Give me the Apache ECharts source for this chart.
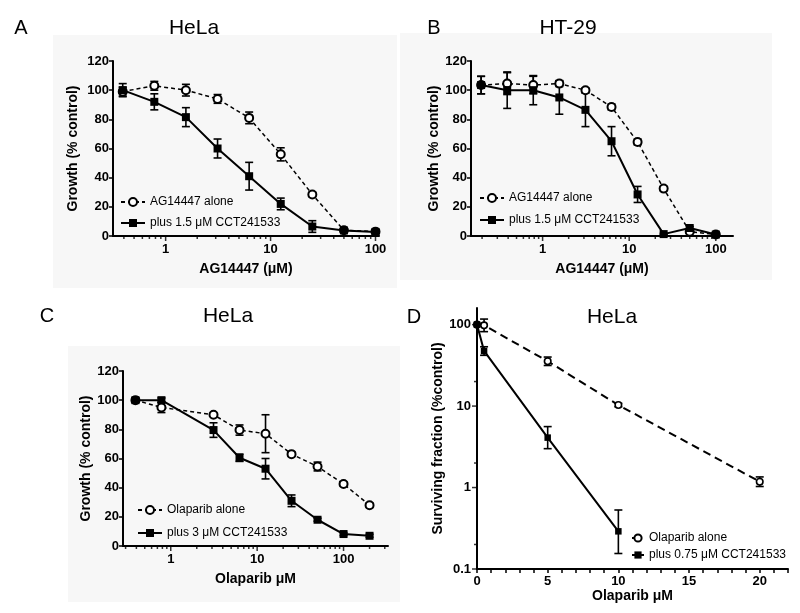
<!DOCTYPE html>
<html>
<head>
<meta charset="utf-8">
<script src="https://cdn.jsdelivr.net/npm/echarts@6/dist/echarts.min.js"></script>
<style>
html,body{margin:0;padding:0;background:#fff;}
#c{width:800px;height:613px;}
</style>
</head>
<body>
<div id="c"></div>
<script>
// ---------- Panel A : HeLa, AG14447 ----------
const concA = [0.39, 0.78, 1.56, 3.125, 6.25, 12.5, 25, 50, 100];
const aloneA = [99, 103, 100, 94, 81, 56, 28.5, 4, 3];
const aloneAErr = [3, 3, 4, 3, 4, 4.5, 1.5, 1, 1];
const plusA = [100, 92, 81.5, 60, 41, 22, 6.5, 3.8, 2.8];
const plusAErr = [4.5, 5.5, 6.5, 6.5, 9.5, 4, 4, 1, 1];

// ---------- Panel B : HT-29, AG14447 ----------
const concB = [0.195, 0.39, 0.78, 1.56, 3.125, 6.25, 12.5, 25, 50, 100];
const aloneB = [103.5, 104.5, 103.5, 104.5, 100, 88.5, 64.5, 32.5, 3, 1];
const aloneBErr = [6, 7.5, 6, 2, 1.5, 2, 2, 1.5, 1, 0.5];
const plusB = [103.5, 100, 100, 95, 86.5, 65, 28.5, 1.3, 5.5, 1];
const plusBErr = [6, 12.5, 10, 11.5, 11.5, 10, 5.5, 0.5, 1, 0.5];

// ---------- Panel C : HeLa, Olaparib ----------
const concC = [0.39, 0.78, 3.125, 6.25, 12.5, 25, 50, 100, 200];
const aloneC = [100, 95, 90, 79.5, 77, 63, 54.5, 42.5, 28];
const aloneCErr = [1.5, 3.5, 1, 3.5, 13, 1.5, 3, 1.5, 1.5];
const plusC = [100, 100, 79.5, 60.5, 53, 31, 18, 8.2, 7];
const plusCErr = [1.5, 1.5, 5, 2.5, 7, 4, 1, 1, 1];

// ---------- Panel D : HeLa, clonogenic ----------
const concDAlone = [0, 0.5, 5, 10, 20];
const aloneD = [100, 98, 35.5, 10.3, 1.18];
const aloneDLow = [100, 82, 31.5, 9.8, 1.03];
const aloneDHigh = [100, 117, 40, 10.8, 1.35];
const concDPlus = [0, 0.5, 5, 10];
const plusD = [100, 47.5, 4.1, 0.29];
const plusDLow = [100, 42, 3.0, 0.155];
const plusDHigh = [100, 53.5, 5.6, 0.53];

// ---------- tick values ----------
const majorLogTicks = [1, 10, 100];
const minorTicksA = [0.4,0.5,0.6,0.7,0.8,0.9,2,3,4,5,6,7,8,9,20,30,40,50,60,70,80,90];
const minorTicksB = [0.2,0.3,0.4,0.5,0.6,0.7,0.8,0.9,2,3,4,5,6,7,8,9,20,30,40,50,60,70,80,90];
const minorTicksC = [0.3,0.4,0.5,0.6,0.7,0.8,0.9,2,3,4,5,6,7,8,9,20,30,40,50,60,70,80,90,200,300];
const majorTicksDY = [0.1, 1, 10, 100];
const minorTicksDY = [0.2, 2, 20];

const legendA = ['AG14447 alone', 'plus 1.5 μM CCT241533'];
const legendC = ['Olaparib alone', 'plus 3 μM CCT241533'];
const legendD = ['Olaparib alone ', 'plus 0.75 μM CCT241533'];

const FONT = "'Liberation Sans', Arial, Helvetica, sans-serif";

function isDecade(v){ const l = Math.log10(v); return Math.abs(l - Math.round(l)) < 1e-6; }
function logFmt(v){ return isDecade(v) ? String(+(+v).toPrecision(6)) : ''; }

const tickLabel = {fontFamily: FONT, fontSize: 13, fontWeight: 'bold', color: '#000'};
const nameStyle = {fontFamily: FONT, fontSize: 14, fontWeight: 'bold', color: '#000'};
const axLine = {show: true, onZero: false, lineStyle: {color: '#000', width: 2}};

function logX(gi, min, max, name){
  return {type:'log', gridIndex:gi, min:min, max:max, logBase:10,
    axisLine: axLine, axisTick:{show:false}, splitLine:{show:false}, minorTick:{show:false},
    axisLabel: Object.assign({margin:7, formatter: logFmt}, tickLabel),
    name: name, nameLocation:'middle', nameGap: 26, nameTextStyle: nameStyle};
}
function linY(gi, nameGap){
  return {type:'value', gridIndex:gi, min:0, max:120, interval:20,
    axisLine: axLine, axisTick:{show:true, length:4, lineStyle:{width:1.5, color:'#000'}},
    splitLine:{show:false},
    axisLabel: Object.assign({margin:4}, tickLabel),
    name:'Growth (% control)', nameLocation:'middle', nameGap: nameGap, nameTextStyle: nameStyle};
}

function lineSeries(name, xs, ys, gi, open, big){
  const sz = big ? 8 : 6.5;
  return {type:'line', name:name, xAxisIndex:gi, yAxisIndex:gi,
    data: xs.map((x,i)=>[x, ys[i]]),
    symbol: open ? 'circle' : 'rect', symbolSize: sz,
    showAllSymbol: true, clip:false, z: open ? 3 : 4,
    itemStyle:{color: open ? '#fff' : '#000', borderColor:'#000', borderWidth: open ? (big?2:1.6) : 0},
    lineStyle:{color:'#000', width: open ? (big?1.5:2) : 2, type: open ? (big ? [4,3] : [8,5]) : 'solid'},
    emphasis:{disabled:true}, silent:true};
}

function errSeries(xs, lo, hi, gi, cap){
  const data = [];
  xs.forEach((x,i)=>{ if (hi[i] - lo[i] > 1e-9) data.push([x, lo[i], hi[i]]); });
  return {type:'custom', xAxisIndex:gi, yAxisIndex:gi, data:data, z:2, silent:true,
    encode:{x:0, y:[1,2]},
    renderItem: function(params, api){
      const x = api.value(0);
      const p1 = api.coord([x, api.value(1)]);
      const p2 = api.coord([x, api.value(2)]);
      const st = {stroke:'#000', lineWidth:1.6};
      return {type:'group', children:[
        {type:'line', shape:{x1:p1[0], y1:p1[1], x2:p2[0], y2:p2[1]}, style:st},
        {type:'line', shape:{x1:p1[0]-cap, y1:p1[1], x2:p1[0]+cap, y2:p1[1]}, style:st},
        {type:'line', shape:{x1:p2[0]-cap, y1:p2[1], x2:p2[0]+cap, y2:p2[1]}, style:st}
      ]};
    }};
}
function symErr(xs, ys, err, gi, cap){
  return errSeries(xs, ys.map((y,i)=>y-err[i]), ys.map((y,i)=>y+err[i]), gi, cap);
}

function xTicks(gi, vals, len){
  return {type:'scatter', xAxisIndex:gi, yAxisIndex:gi, data: vals.map(v=>[v,0]),
    symbol:'rect', symbolSize:[1.5, len], symbolOffset:[0, '50%'], clip:false, silent:true,
    itemStyle:{color:'#000'}, z:5};
}
function yTicks(gi, vals, len){
  return {type:'scatter', xAxisIndex:gi, yAxisIndex:gi, data: vals.map(v=>[0,v]),
    symbol:'rect', symbolSize:[len, 1.5], symbolOffset:['-50%', 0], clip:false, silent:true,
    itemStyle:{color:'#000'}, z:5};
}

function legendOf(names, left, top, iw, ih, gap){
  return {data: names, orient:'vertical', left:left, top:top, itemWidth:iw, itemHeight:ih,
    itemGap:gap, padding:0, selectedMode:false,
    textStyle:{fontFamily:FONT, fontSize:12, color:'#000'}};
}

const txt = (x, y, t, size) => ({type:'text', x:x, y:y, silent:true,
  style:{text:t, fontFamily:FONT, fontSize:size, fill:'#000', textAlign:'center', textVerticalAlign:'middle'}});
const bg = (x, y, w, h) => ({type:'rect', shape:{x:x, y:y, width:w, height:h}, style:{fill:'#f7f7f7'}, z:-10, silent:true});

const option = {
  animation:false,
  backgroundColor:'#fff',
  graphic:[
    bg(53, 35, 344, 253), bg(400, 33, 372, 247), bg(68, 346, 332, 256),
    txt(21, 28, 'A', 20), txt(194, 28, 'HeLa', 21),
    txt(434, 28, 'B', 20), txt(568, 28, 'HT-29', 21),
    txt(47, 316, 'C', 20), txt(228, 316, 'HeLa', 21),
    txt(414, 317, 'D', 20), txt(612, 317, 'HeLa', 21)
  ],
  grid:[
    {left:113, top:61, width:266, height:175},
    {left:471, top:61, width:262, height:175},
    {left:123, top:371, width:265, height:175},
    {left:477, top:308, width:311, height:261}
  ],
  xAxis:[
    logX(0, 0.315, 108, 'AG14447 (μM)'),
    logX(1, 0.149, 158, 'AG14447 (μM)'),
    logX(2, 0.28, 327, 'Olaparib μM'),
    {type:'value', gridIndex:3, min:0, max:22, interval:1,
      axisLine: axLine, axisTick:{show:true, length:4, lineStyle:{width:1.5, color:'#000'}},
      splitLine:{show:false},
      axisLabel: Object.assign({margin:6, formatter: v => (v % 5 === 0 ? String(v) : '')}, tickLabel),
      name:'Olaparib μM', nameLocation:'middle', nameGap:20, nameTextStyle: nameStyle}
  ],
  yAxis:[
    linY(0, 33), linY(1, 28), linY(2, 27),
    {type:'log', gridIndex:3, min:0.1, max:160, logBase:10,
      axisLine: axLine, axisTick:{show:false}, splitLine:{show:false}, minorTick:{show:false},
      axisLabel: Object.assign({margin:6, formatter: logFmt}, tickLabel),
      name:'Surviving fraction (%control)', nameLocation:'middle', nameGap:31, nameTextStyle: nameStyle}
  ],
  legend:[
    legendOf(legendA, 120, 196, 24, 10, 9),
    legendOf(legendA, 479, 192, 24, 10, 10),
    legendOf(legendC, 137, 504, 24, 10, 11),
    legendOf(legendD, 631, 532, 12, 9, 5)
  ],
  series:[
    // A
    symErr(concA, aloneA, aloneAErr, 0, 4), symErr(concA, plusA, plusAErr, 0, 4),
    lineSeries(legendA[0], concA, aloneA, 0, true, true),
    lineSeries(legendA[1], concA, plusA, 0, false, true),
    xTicks(0, majorLogTicks, 5), xTicks(0, minorTicksA, 3),
    // B
    symErr(concB, aloneB, aloneBErr, 1, 4), symErr(concB, plusB, plusBErr, 1, 4),
    lineSeries(legendA[0], concB, aloneB, 1, true, true),
    lineSeries(legendA[1], concB, plusB, 1, false, true),
    xTicks(1, majorLogTicks, 5), xTicks(1, minorTicksB, 3),
    // C
    symErr(concC, aloneC, aloneCErr, 2, 4), symErr(concC, plusC, plusCErr, 2, 4),
    lineSeries(legendC[0], concC, aloneC, 2, true, true),
    lineSeries(legendC[1], concC, plusC, 2, false, true),
    xTicks(2, majorLogTicks, 5), xTicks(2, minorTicksC, 3),
    // D
    errSeries(concDAlone, aloneDLow, aloneDHigh, 3, 4), errSeries(concDPlus, plusDLow, plusDHigh, 3, 4),
    lineSeries(legendD[0], concDAlone, aloneD, 3, true, false),
    lineSeries(legendD[1], concDPlus, plusD, 3, false, false),
    yTicks(3, majorTicksDY, 5), yTicks(3, minorTicksDY, 3)
  ]
};

const chart = echarts.init(document.getElementById('c'), null, {renderer:'canvas'});
chart.setOption(option);
</script>
</body>
</html>
